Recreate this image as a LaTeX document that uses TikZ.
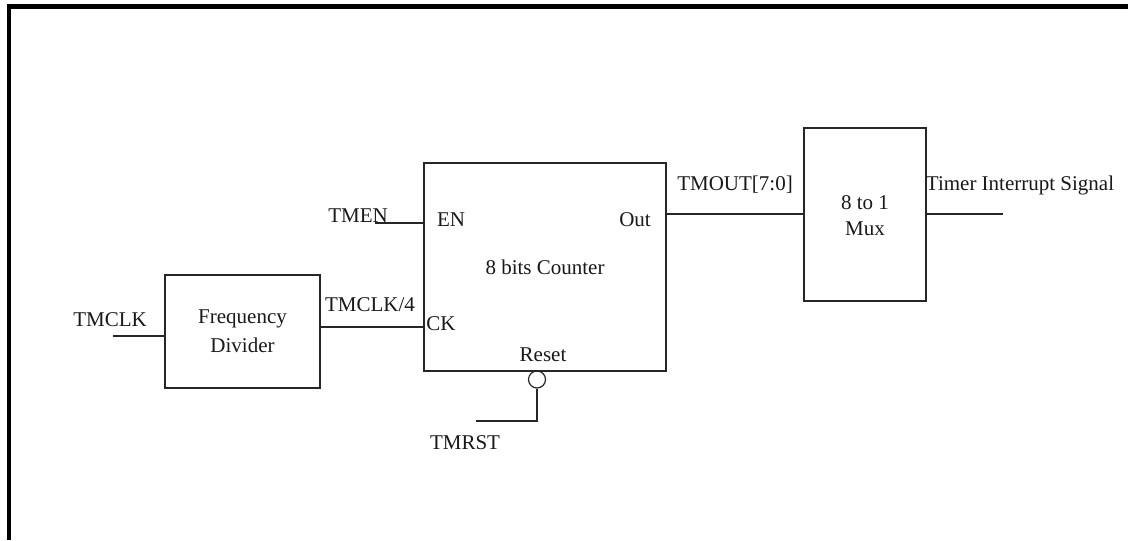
\documentclass[tikz,border=0pt]{standalone}
\usepackage{fontspec}
\setmainfont{Liberation Serif}
\begin{document}
\begin{tikzpicture}[x=0.5pt,y=-0.5pt,
  wire/.style={line width=0.6pt,draw=black!85},
  blk/.style={line width=0.6pt,draw=black!85},
  lbl/.style={inner sep=0pt,font=\fontsize{10.5}{12}\selectfont,text=black!90}]
\useasboundingbox (0,0) rectangle (1128,540);
\fill[white] (0,0) rectangle (1128,540);
% frame
\draw[line width=2.4pt,line cap=butt] (9,540) -- (9,6.5) -- (1128,6.5);
% blocks
\draw[blk] (165,275) rectangle (320,388);
\draw[blk] (424,163) rectangle (666,371);
\draw[blk] (804,128) rectangle (926,301);
\node[lbl] (fd1) at (242.5,319) {Frequency};
\node[lbl] (fd2) at (242.5,345) {Divider};
\node[lbl] (cnt) at (545,267) {8 bits Counter};
\node[lbl] (mx1) at (865,203) {8 to 1};
\node[lbl] (mx2) at (865,229) {Mux};
% coordinates
\coordinate (fdin) at (165,336);
\coordinate (fdout) at (320,327);
\coordinate (ckin) at (424,327);
\coordinate (enin) at (424,223);
\coordinate (outp) at (666,214);
\coordinate (mxin) at (804,214);
\coordinate (mxout) at (926,214);
\coordinate (tmclkend) at (113,336);
\coordinate (tmenend) at (375,223);
\coordinate (tieend) at (1003,214);
\coordinate (rstcorner) at (537,421);
\coordinate (rstend) at (476,421);
% bubble
\node[circle,draw=black!85,line width=0.6pt,minimum size=8.5pt,inner sep=0pt] (bub) at (537,379.5) {};
% wires
\draw[wire] (tmclkend) -- (fdin);
\draw[wire] (fdout) -- (ckin);
\draw[wire] (tmenend) -- (enin);
\draw[wire] (outp) -- (mxin);
\draw[wire] (mxout) -- (tieend);
\draw[wire] (bub.south) -- (rstcorner) -- (rstend);
% labels
\node[lbl] (ltmclk) at (110,320) {TMCLK};
\node[lbl] (ltmclk4) at (370,305) {TMCLK/4};
\node[lbl] (ltmen) at (358,216) {TMEN};
\node[lbl] (len) at (451,220) {EN};
\node[lbl] (lout) at (635,220) {Out};
\node[lbl] (lck) at (441,324) {CK};
\node[lbl] (lreset) at (543,355) {Reset};
\node[lbl] (ltmrst) at (465,443) {TMRST};
\node[lbl] (ltmout) at (735,185) {TMOUT[7:0]};
\node[lbl] (ltis) at (1020,185) {Timer Interrupt Signal};
\end{tikzpicture}
\end{document}
